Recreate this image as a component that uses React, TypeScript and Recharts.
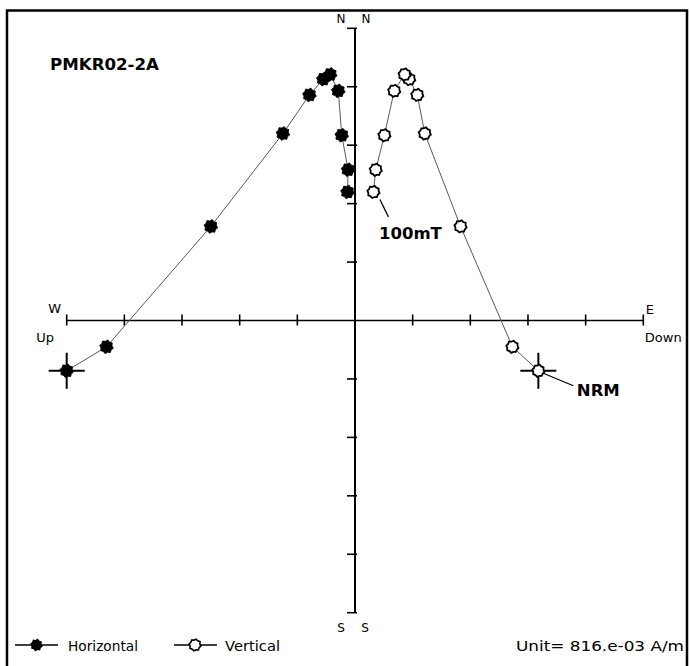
import React from 'react';
import {
  ScatterChart,
  Scatter,
  XAxis,
  YAxis,
  ReferenceLine,
  ReferenceDot,
  Legend,
  Customized,
} from 'recharts';

// Demagnetisation steps, NRM first, last step 100mT (axis units = 816e-03 A/m)
const sampleName = 'PMKR02-2A';
const firstStep = 'NRM';
const lastStep = '100mT';
const unitLabel = 'Unit=  816.e-03 A/m';

// Components of the magnetisation vector per step
const north = [-0.86, -0.45, 1.61, 3.2, 3.86, 4.13, 4.21, 3.93, 3.17, 2.58, 2.2];
const east = [-5.0, -4.31, -2.5, -1.25, -0.79, -0.55, -0.43, -0.29, -0.23, -0.12, -0.13];
const down = [3.18, 2.73, 1.83, 1.21, 1.08, 0.94, 0.86, 0.68, 0.51, 0.36, 0.32];

const axisTicks = [-5, -4, -3, -2, -1, 1, 2, 3, 4, 5];
const axisMin = -5;
const axisMax = 5;

const horizontalData = north.map((n, i) => ({ x: east[i], y: n, i }));
const verticalData = north.map((n, i) => ({ x: down[i], y: n, i }));

const FONT = '"DejaVu Sans", sans-serif';
const LINE = '#5a5a5a';

const cogPoints = (cx: number, cy: number, ro: number, ri: number) => {
  const pts: string[] = [];
  for (let k = 0; k < 16; k++) {
    const r = k % 2 === 0 ? ro : ri;
    const a = (Math.PI * 2 * k) / 16 + Math.PI / 16;
    pts.push(`${(cx + r * Math.cos(a)).toFixed(2)},${(cy + r * Math.sin(a)).toFixed(2)}`);
  }
  return pts.join(' ');
};

const Cross = ({ cx, cy }: { cx: number; cy: number }) => (
  <g stroke="#000" strokeWidth={2}>
    <line x1={cx - 18} x2={cx + 18} y1={cy} y2={cy} />
    <line x1={cx} x2={cx} y1={cy - 18} y2={cy + 18} />
  </g>
);

const FilledMarker = (props: any) => {
  const { cx, cy, payload } = props;
  return (
    <g>
      {payload && payload.i === 0 && <Cross cx={cx} cy={cy} />}
      <polygon points={cogPoints(cx, cy, 7, 5.6)} fill="#000" stroke="#000" strokeWidth={0.8} />
    </g>
  );
};

const OpenMarker = (props: any) => {
  const { cx, cy, payload } = props;
  return (
    <g>
      {payload && payload.i === 0 && <Cross cx={cx} cy={cy} />}
      <polygon points={cogPoints(cx, cy, 6.2, 5.2)} fill="#fff" stroke="#000" strokeWidth={1.8} />
    </g>
  );
};

const xTick = (props: any) => (
  <line x1={props.cx} x2={props.cx} y1={props.cy - 6} y2={props.cy + 5} stroke="#000" strokeWidth={1.6} />
);
const yTick = (props: any) => (
  <line x1={props.cx - 8} x2={props.cx + 2} y1={props.cy} y2={props.cy} stroke="#000" strokeWidth={1.6} />
);

const textStyle = { fontFamily: FONT, fontSize: 13, fill: '#000' };
const boldStyle = { fontFamily: FONT, fontSize: 16.5, fontWeight: 700, fill: '#000' };

const NorthLabels = (p: any) => (
  <g>
    <text x={p.cx - 14} y={p.cy - 5.5} textAnchor="middle" style={{ ...textStyle, fontSize: 12 }}>N</text>
    <text x={p.cx + 11} y={p.cy - 5.5} textAnchor="middle" style={{ ...textStyle, fontSize: 12 }}>N</text>
  </g>
);
const SouthLabels = (p: any) => (
  <g>
    <text x={p.cx - 14} y={p.cy + 19.5} textAnchor="middle" style={{ ...textStyle, fontSize: 12 }}>S</text>
    <text x={p.cx + 10} y={p.cy + 19.5} textAnchor="middle" style={{ ...textStyle, fontSize: 12 }}>S</text>
  </g>
);
const WestLabels = (p: any) => (
  <g>
    <text x={p.cx - 12} y={p.cy - 7.5} textAnchor="middle" style={textStyle}>W</text>
    <text x={p.cx - 21.5} y={p.cy + 21} textAnchor="middle" style={textStyle}>Up</text>
  </g>
);
const EastLabels = (p: any) => (
  <g>
    <text x={p.cx + 6.5} y={p.cy - 6.5} textAnchor="middle" style={textStyle}>E</text>
    <text x={p.cx + 1.5} y={p.cy + 21} style={textStyle}>Down</text>
  </g>
);

const LastStepLabel = (p: any) => (
  <g>
    <line x1={p.cx + 6.5} y1={p.cy + 7.5} x2={p.cx + 15} y2={p.cy + 25} stroke="#000" strokeWidth={1.3} />
    <text x={p.cx + 5.5} y={p.cy + 47.5} style={boldStyle}>{lastStep}</text>
  </g>
);
const FirstStepLabel = (p: any) => (
  <g>
    <line x1={p.cx + 5} y1={p.cy + 2.5} x2={p.cx + 35} y2={p.cy + 15} stroke="#000" strokeWidth={1.3} />
    <text x={p.cx + 38.5} y={p.cy + 25.5} style={boldStyle}>{firstStep}</text>
  </g>
);

const LegendContent = () => (
  <svg width={690} height={36} style={{ display: 'block' }}>
    <line x1={15} x2={58} y1={15} y2={15} stroke="#000" strokeWidth={1.3} />
    <polygon points={cogPoints(36.5, 15, 6.5, 5.2)} fill="#000" />
    <text x={68} y={21} style={{ ...textStyle, fontSize: 13.5 }} textLength={70} lengthAdjust="spacingAndGlyphs">
      Horizontal
    </text>
    <line x1={174} x2={217} y1={15} y2={15} stroke="#000" strokeWidth={1.3} />
    <polygon points={cogPoints(195, 15, 6, 5)} fill="#fff" stroke="#000" strokeWidth={1.6} />
    <text x={225} y={21} style={{ ...textStyle, fontSize: 13.5 }} textLength={55} lengthAdjust="spacingAndGlyphs">
      Vertical
    </text>
    <text x={516} y={21} style={{ ...textStyle, fontSize: 13.5 }} textLength={168} lengthAdjust="spacingAndGlyphs">
      {unitLabel}
    </text>
  </svg>
);

export default function App() {
  return (
    <div style={{ position: 'absolute', left: 0, top: 0, width: 690, height: 666, background: '#fff', overflow: 'hidden' }}>
      <ScatterChart
        width={690}
        height={666}
        margin={{ top: 28.3, right: 46.7, bottom: 53.3, left: 66.7 }}
      >
        <XAxis type="number" dataKey="x" domain={[axisMin, axisMax]} hide />
        <YAxis type="number" dataKey="y" domain={[axisMin, axisMax]} hide />

        <Customized
          component={
            <g>
              <rect x={7} y={10.5} width={680} height={680} fill="none" stroke="#000" strokeWidth={2.5} />
              <text x={50} y={70} style={boldStyle} textLength={109} lengthAdjust="spacingAndGlyphs">
                {sampleName}
              </text>
            </g>
          }
        />

        <ReferenceLine
          segment={[{ x: axisMin, y: 0 }, { x: axisMax, y: 0 }]}
          stroke="#000"
          strokeWidth={1.6}
        />
        <ReferenceLine
          segment={[{ x: 0, y: axisMin }, { x: 0, y: axisMax }]}
          stroke="#000"
          strokeWidth={2}
        />
        {axisTicks.map((t) => (
          <ReferenceDot key={`xt${t}`} x={t} y={0} r={0} shape={xTick} />
        ))}
        {axisTicks.map((t) => (
          <ReferenceDot key={`yt${t}`} x={0} y={t} r={0} shape={yTick} />
        ))}
        <ReferenceDot x={0} y={axisMax} r={0} shape={NorthLabels} />
        <ReferenceDot x={0} y={axisMin} r={0} shape={SouthLabels} />
        <ReferenceDot x={axisMin} y={0} r={0} shape={WestLabels} />
        <ReferenceDot x={axisMax} y={0} r={0} shape={EastLabels} />

        <Scatter
          name="Horizontal"
          data={horizontalData}
          line={{ stroke: LINE, strokeWidth: 1 }}
          shape={FilledMarker}
          isAnimationActive={false}
        />
        <Scatter
          name="Vertical"
          data={verticalData}
          line={{ stroke: LINE, strokeWidth: 1 }}
          shape={OpenMarker}
          isAnimationActive={false}
        />

        <ReferenceDot
          x={down[down.length - 1]}
          y={north[north.length - 1]}
          r={0}
          shape={LastStepLabel}
        />
        <ReferenceDot x={down[0]} y={north[0]} r={0} shape={FirstStepLabel} />

        <Legend
          layout="horizontal"
          verticalAlign="middle"
          align="center"
          wrapperStyle={{ position: 'absolute', left: 0, top: 630, width: 690, height: 36 }}
          content={LegendContent}
        />
      </ScatterChart>
    </div>
  );
}
